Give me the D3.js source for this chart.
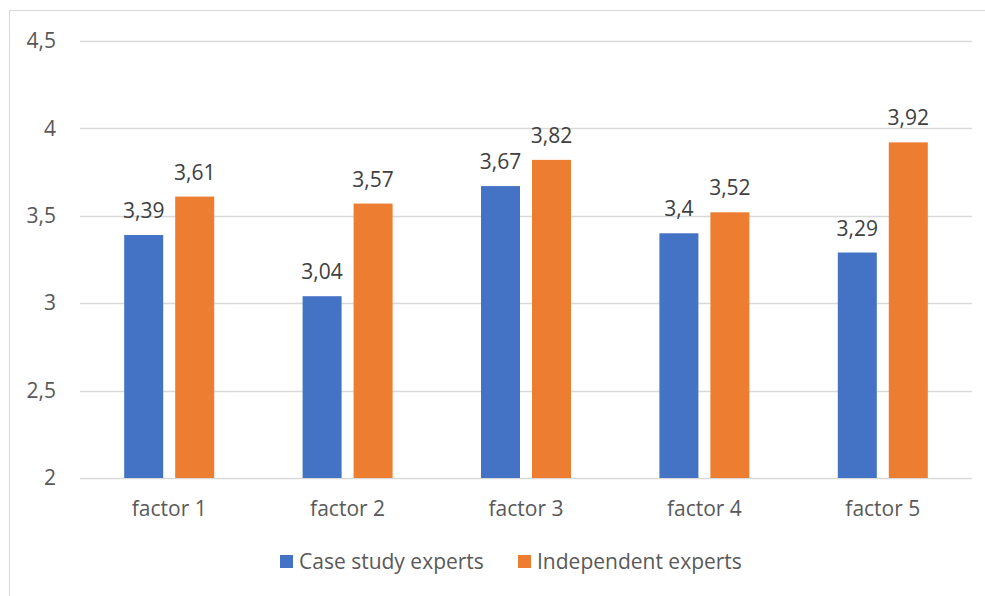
<!DOCTYPE html>
<html>
<head>
<meta charset="utf-8">
<script src="https://cdn.jsdelivr.net/npm/d3@7"></script>
<style>
  html, body { margin: 0; padding: 0; background: #fff; }
  svg { display: block; }
  text { font-family: "Open Sans", "DejaVu Sans", sans-serif; }
</style>
</head>
<body>
<svg id="chart" width="985" height="596"></svg>
<script>
const categories = ["factor 1", "factor 2", "factor 3", "factor 4", "factor 5"];
const seriesNames = ["Case study experts", "Independent experts"];
const caseStudy = [3.39, 3.04, 3.67, 3.40, 3.29];
const independent = [3.61, 3.57, 3.82, 3.52, 3.92];
const yTicks = [2, 2.5, 3, 3.5, 4, 4.5];
const colors = ["#4472C4", "#ED7D31"];

const fmt = v => String(v).replace(".", ",");
const FS = "21px";

const svg = d3.select("#chart");
const W = 985, H = 596;
const m = { left: 80, right: 13, top: 41, bottom: 118 };

// outer frame
svg.append("rect")
  .attr("x", 9.5).attr("y", 10.5)
  .attr("width", 990).attr("height", 600)
  .attr("fill", "none").attr("stroke", "#d9d9d9").attr("stroke-width", 1);

const x = d3.scaleBand().domain(categories).range([m.left, W - m.right]);
const y = d3.scaleLinear().domain([2, 4.5]).range([H - m.bottom, m.top]);

// two bars per category, 39px wide with a 12px gap between them
const barW = 39, gap = 12;
const groupW = 2 * barW + gap;
const inner = d3.scaleBand().domain(seriesNames)
  .range([0, groupW]).paddingInner(gap / (barW + gap)).paddingOuter(0);

// gridlines
svg.append("g").selectAll("line").data(yTicks).join("line")
  .attr("x1", m.left).attr("x2", W - m.right)
  .attr("y1", d => Math.round(y(d)) + 0.5).attr("y2", d => Math.round(y(d)) + 0.5)
  .attr("stroke", "#d9d9d9").attr("stroke-width", 1.3);

// y axis labels
const yAxis = d3.axisLeft(y).tickValues(yTicks).tickFormat(fmt).tickSize(0).tickPadding(24);
const yg = svg.append("g").attr("transform", `translate(${m.left},0)`).call(yAxis);
yg.select(".domain").remove();
yg.selectAll("text").attr("fill", "#595959").style("font-size", FS)
  .style("font-family", "'Open Sans', sans-serif");

// x axis labels
const xAxis = d3.axisBottom(x).tickSize(0).tickPadding(23);
const xg = svg.append("g").attr("transform", `translate(0,${y(2)})`).call(xAxis);
xg.select(".domain").remove();
xg.selectAll("text").attr("fill", "#595959").style("font-size", FS)
  .style("font-family", "'Open Sans', sans-serif");

const series = [caseStudy, independent];
const groups = svg.append("g");
series.forEach((vals, si) => {
  const offset = x.bandwidth() / 2 - groupW / 2 + inner(seriesNames[si]);
  groups.append("g").selectAll("rect").data(vals).join("rect")
    .attr("x", (d, i) => x(categories[i]) + offset)
    .attr("y", d => y(d))
    .attr("width", inner.bandwidth())
    .attr("height", d => y(2) - y(d))
    .attr("fill", colors[si]);
  groups.append("g").selectAll("text").data(vals).join("text")
    .attr("x", (d, i) => x(categories[i]) + offset + inner.bandwidth() / 2)
    .attr("y", d => y(d) - 17)
    .attr("text-anchor", "middle")
    .attr("fill", "#404040")
    .style("font-size", FS)
    .text(fmt);
});

// legend
const legend = svg.append("g");
const legendItems = [{ name: seriesNames[0], x: 280 }, { name: seriesNames[1], x: 518 }];
legendItems.forEach((it, i) => {
  legend.append("rect").attr("x", it.x).attr("y", 555).attr("width", 13).attr("height", 13)
    .attr("fill", colors[i]);
  legend.append("text").attr("x", it.x + 19).attr("y", 569)
    .attr("fill", "#595959").style("font-size", FS).text(it.name);
});
</script>
</body>
</html>
